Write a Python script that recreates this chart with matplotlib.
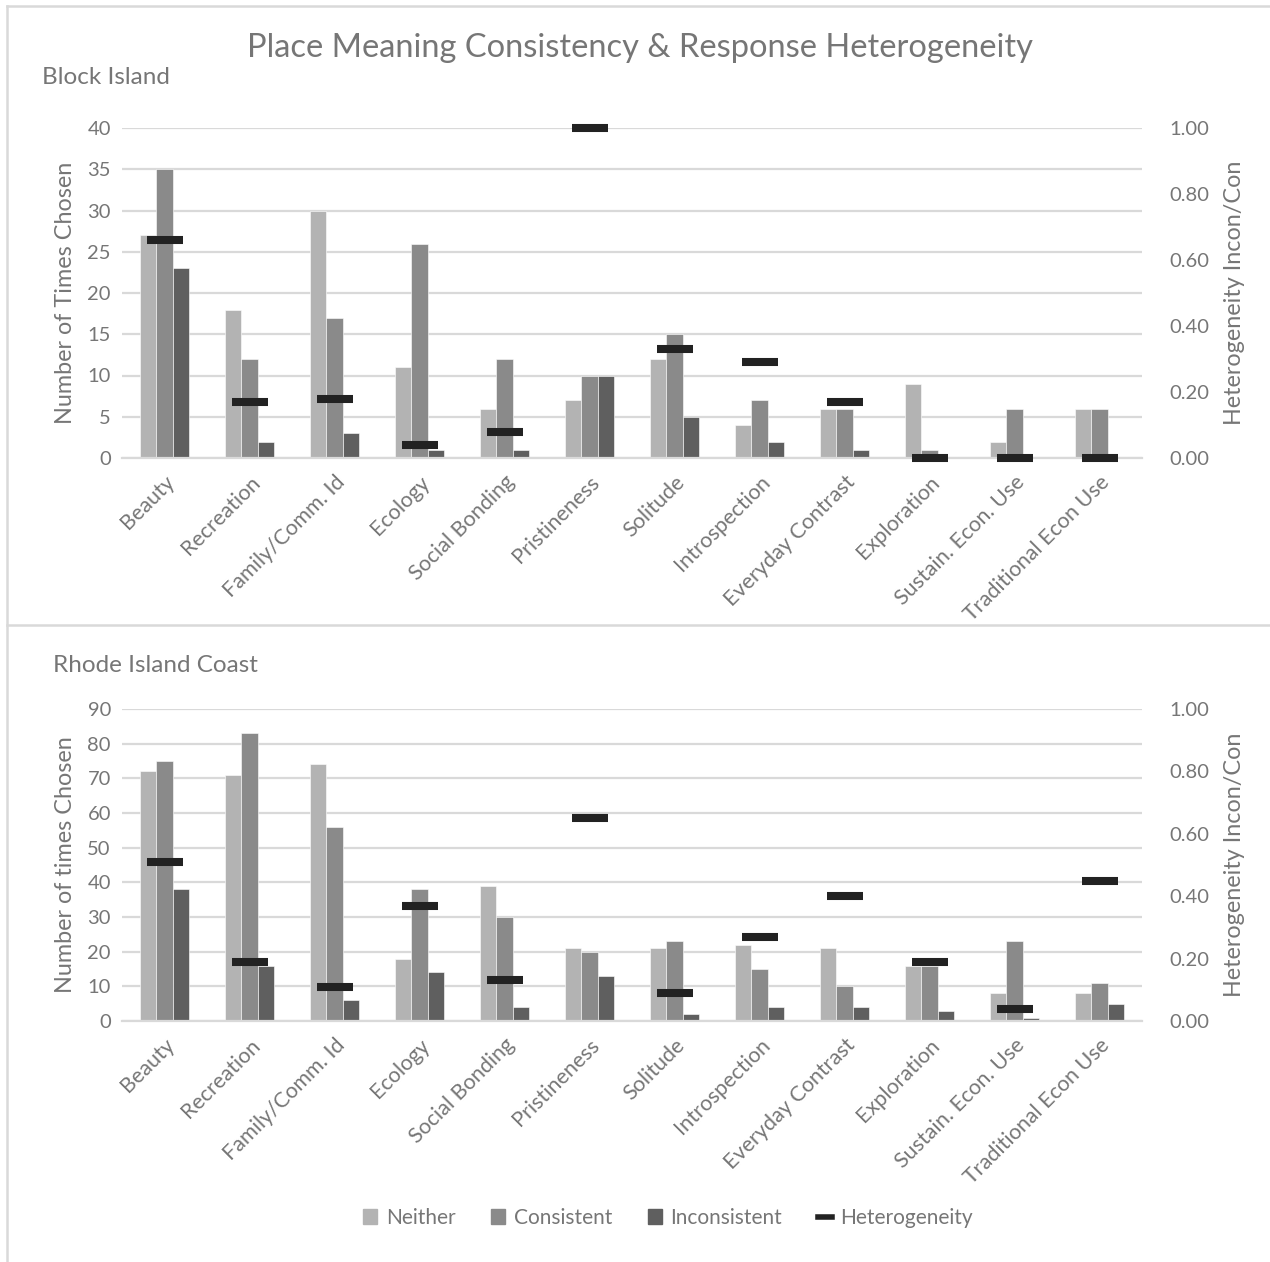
import matplotlib
matplotlib.use("Agg")
import matplotlib.pyplot as plt
from matplotlib.lines import Line2D
from matplotlib.patches import Patch
import numpy as np

plt.rcParams['font.family'] = ['Lato', 'DejaVu Sans']

categories = ["Beauty", "Recreation", "Family/Comm. Id", "Ecology", "Social Bonding",
              "Pristineness", "Solitude", "Introspection", "Everyday Contrast",
              "Exploration", "Sustain. Econ. Use", "Traditional Econ Use"]

# Block Island
bi_neither = [27, 18, 30, 11, 6, 7, 12, 4, 6, 9, 2, 6]
bi_consistent = [35, 12, 17, 26, 12, 10, 15, 7, 6, 1, 6, 6]
bi_inconsistent = [23, 2, 3, 1, 1, 10, 5, 2, 1, 0, 0, 0]
bi_hetero = [0.66, 0.17, 0.18, 0.04, 0.08, 1.00, 0.33, 0.29, 0.17, 0.00, 0.00, 0.00]

# Rhode Island Coast
ri_neither = [72, 71, 74, 18, 39, 21, 21, 22, 21, 16, 8, 8]
ri_consistent = [75, 83, 56, 38, 30, 20, 23, 15, 10, 16, 23, 11]
ri_inconsistent = [38, 16, 6, 14, 4, 13, 2, 4, 4, 3, 1, 5]
ri_hetero = [0.51, 0.19, 0.11, 0.37, 0.13, 0.65, 0.09, 0.27, 0.40, 0.19, 0.04, 0.45]

C_N, C_C, C_I, C_H = "#b3b3b3", "#8a8a8a", "#5f5f5f", "#222222"
GRID = "#d9d9d9"
TXT = "#767676"

W, H = 1270, 1262
fig = plt.figure(figsize=(W / 100, H / 100), dpi=100)


def px_axes(x0, y0, x1, y1):
    return fig.add_axes([x0 / W, 1 - y1 / H, (x1 - x0) / W, (y1 - y0) / H])


def panel(ax, neither, consistent, inconsistent, hetero, ymax, ystep, ylabel):
    x = np.arange(len(categories))
    bw = 0.192
    ax.bar(x - bw, neither, bw, color=C_N, zorder=2, edgecolor="white", linewidth=0.4)
    ax.bar(x, consistent, bw, color=C_C, zorder=2, edgecolor="white", linewidth=0.4)
    ax.bar(x + bw, inconsistent, bw, color=C_I, zorder=2, edgecolor="white", linewidth=0.4)
    ax.set_xlim(-0.5, len(categories) - 0.5)
    ax.set_ylim(0, ymax)
    ax.set_yticks(np.arange(0, ymax + 0.1, ystep))
    ax.yaxis.grid(True, color=GRID, linewidth=1.6, zorder=0)
    ax.set_axisbelow(True)
    for s in ["top", "right", "left"]:
        ax.spines[s].set_visible(False)
    ax.spines["bottom"].set_color(GRID)
    ax.spines["bottom"].set_linewidth(1.6)
    ax.tick_params(axis="both", length=0, labelsize=14.5, colors=TXT, pad=8)
    ax.set_xticks(x)
    ax.set_xticklabels(categories, rotation=45, ha="right", rotation_mode="anchor",
                       fontsize=15.5, color=TXT)
    ax.tick_params(axis="x", pad=10)
    ax.set_ylabel(ylabel, fontsize=16.8, color=TXT, labelpad=8)

    ax2 = ax.twinx()
    ax2.set_ylim(0, 1)
    ax2.set_yticks(np.arange(0, 1.01, 0.2))
    ax2.set_yticklabels([f"{v:.2f}" for v in np.arange(0, 1.01, 0.2)])
    for s in ["top", "right", "left", "bottom"]:
        ax2.spines[s].set_visible(False)
    ax2.tick_params(axis="y", length=0, labelsize=14.5, colors=TXT, pad=20)
    ax2.set_ylabel("Heterogeneity Incon/Con", fontsize=16.8, color=TXT, labelpad=10)
    ax2.plot(x, hetero, linestyle="none", marker="_", markersize=25.5,
             markeredgewidth=5.8, color=C_H, clip_on=False, zorder=5)
    return ax2


ax1 = px_axes(122, 128, 1142, 458)
panel(ax1, bi_neither, bi_consistent, bi_inconsistent, bi_hetero, 40, 5,
      "Number of Times Chosen")
ax3 = px_axes(122, 709, 1142, 1021)
panel(ax3, ri_neither, ri_consistent, ri_inconsistent, ri_hetero, 90, 10,
      "Number of times Chosen")

fig.text(640 / W, 1 - 48 / H, "Place Meaning Consistency & Response Heterogeneity",
         ha="center", va="center", fontsize=23.5, color=TXT)
fig.text(42 / W, 1 - 77 / H, "Block Island", ha="left", va="center", fontsize=17.5, color=TXT)
fig.text(53 / W, 1 - 665 / H, "Rhode Island Coast", ha="left", va="center", fontsize=17.5, color=TXT)

# panel frames
for (xs, ys) in [([7, 1270], [6, 6]), ([7, 7], [6, 1262]), ([7, 1270], [625, 625])]:
    fig.add_artist(Line2D([v / W for v in xs], [1 - v / H for v in ys],
                          color=GRID, linewidth=1.8))

handles = [Patch(color=C_N, label="Neither"), Patch(color=C_C, label="Consistent"),
           Patch(color=C_I, label="Inconsistent"),
           Line2D([], [], color=C_H, linewidth=4, label="Heterogeneity")]
leg = fig.legend(handles=handles, loc="center", bbox_to_anchor=(668 / W, 1 - 1218 / H),
                 ncol=4, frameon=False, fontsize=15, handlelength=0.7, handleheight=0.7,
                 columnspacing=1.7, handletextpad=0.4)
for t in leg.get_texts():
    t.set_color(TXT)

fig.savefig("out.png", dpi=100)
